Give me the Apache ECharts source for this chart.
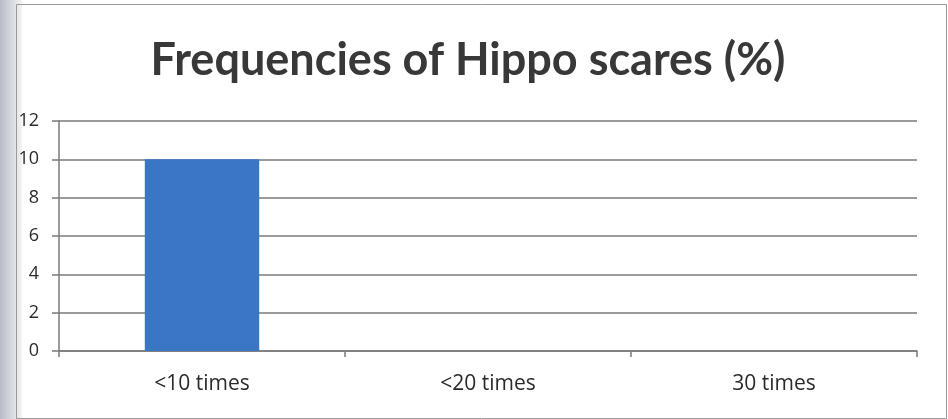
<!DOCTYPE html>
<html><head><meta charset="utf-8">
<script src="https://cdn.jsdelivr.net/npm/echarts@6/dist/echarts.min.js"></script>
<style>html,body{margin:0;padding:0;background:#fff}#c{width:948px;height:419px}</style>
</head><body><div id="c"></div>
<script>
const categories = ["<10 times", "<20 times", "30 times"];
const values = [10, 0, 0];
const yTicks = [0, 2, 4, 6, 8, 10, 12];
const titleText = "Frequencies of Hippo scares (%)";

const chart = echarts.init(document.getElementById('c'));
chart.setOption({
  backgroundColor: '#ffffff',
  animation: false,
  graphic: [
    { type: 'rect', left: 0, top: 0, shape: { width: 22, height: 419 },
      style: { fill: new echarts.graphic.LinearGradient(0, 0, 1, 0, [{offset: 0, color: '#b8bcc4'}, {offset: 1, color: '#f2f4f7'}]) }, z: -1 },
    { type: 'rect', left: 14, top: 2, shape: { width: 930, height: 414 },
      style: { fill: 'none', stroke: '#9a9a9a', lineWidth: 1 }, z: -1 }
  ],
  title: {
    text: titleText, left: 463, textAlign: 'center', top: 33,
    textStyle: { fontFamily: 'Lato', fontWeight: 'bold', fontSize: 45, color: '#383838' }
  },
  grid: { left: 59, right: 31, top: 121, bottom: 68, containLabel: false },
  xAxis: {
    type: 'category', data: categories,
    axisLine: { lineStyle: { color: '#7a7a7a', width: 1.5 } },
    axisTick: { show: true, length: 6, lineStyle: { color: '#7a7a7a', width: 1.5 }, alignWithLabel: false },
    axisLabel: { margin: 23, fontFamily: 'Open Sans', fontSize: 21, color: '#2b2b2b' }
  },
  yAxis: {
    type: 'value', min: yTicks[0], max: yTicks[yTicks.length - 1], interval: 2,
    axisLine: { show: true, lineStyle: { color: '#7a7a7a', width: 1.5 } },
    axisTick: { show: true, length: 7, lineStyle: { color: '#7a7a7a', width: 1.5 } },
    splitLine: { lineStyle: { color: '#7a7a7a', width: 1.5 } },
    axisLabel: { margin: 20, fontFamily: 'Open Sans', fontSize: 18, color: '#2b2b2b' }
  },
  series: [{
    type: 'bar', data: values, barWidth: '40%',
    itemStyle: { color: '#3a76c4' }
  }]
});
</script></body></html>
